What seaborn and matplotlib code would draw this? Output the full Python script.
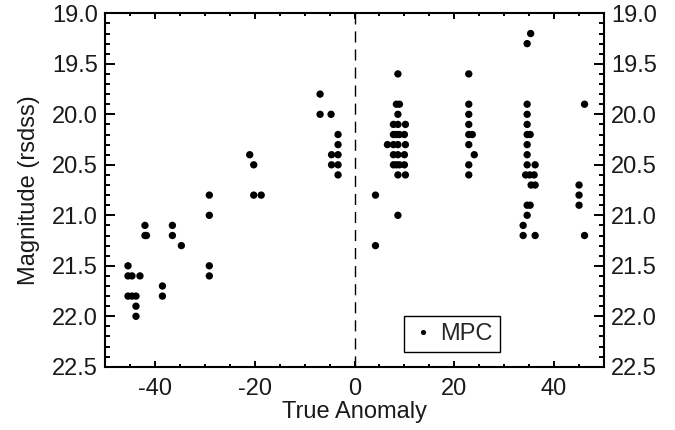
import matplotlib
matplotlib.use("Agg")
import matplotlib.pyplot as plt
from matplotlib.ticker import MultipleLocator
import seaborn as sns
import pandas as pd

# True anomaly (deg) and magnitude (rsdss) of MPC observations
anomaly = [
    -45.4, -45.4, -44.6, -43.0, -45.4, -44.6, -43.8, -43.8, -43.8,
    -42.0, -42.0, -41.7, -38.5, -38.5, -36.5, -36.5, -34.7,
    -29.1, -29.1, -29.1, -29.1,
    -21.0, -20.2, -20.2, -18.7,
    -6.9, -6.9, -4.7, -3.3, -3.3, -4.6, -3.3, -4.6, -3.3, -3.3,
    4.2, 4.2,
    8.7, 8.4, 9.0, 8.7, 7.8, 8.7, 10.2, 7.8, 8.4, 9.0, 10.0,
    6.6, 7.8, 8.7, 10.2, 7.8, 8.7, 10.0, 7.8, 8.4, 9.0, 10.0, 8.7, 10.2, 8.7,
    22.9, 22.9, 22.9, 22.9, 22.9, 23.6, 22.9, 24.0, 22.9, 22.9,
    35.3, 34.6, 34.6, 34.6, 34.6, 34.6, 35.2, 34.6, 34.6, 34.6, 36.2,
    34.3, 35.1, 36.0, 35.4, 36.2, 34.6, 35.2, 34.6, 33.8, 33.8, 36.2,
    46.1, 45.0, 45.0, 45.0, 46.1,
]
magnitude = [
    21.5, 21.6, 21.6, 21.6, 21.8, 21.8, 21.8, 21.9, 22.0,
    21.1, 21.2, 21.2, 21.7, 21.8, 21.1, 21.2, 21.3,
    20.8, 21.0, 21.5, 21.6,
    20.4, 20.5, 20.8, 20.8,
    19.8, 20.0, 20.0, 20.2, 20.3, 20.4, 20.4, 20.5, 20.5, 20.6,
    20.8, 21.3,
    19.6, 19.9, 19.9, 20.0, 20.1, 20.1, 20.1, 20.2, 20.2, 20.2, 20.2,
    20.3, 20.3, 20.3, 20.3, 20.4, 20.4, 20.4, 20.5, 20.5, 20.5, 20.5, 20.6, 20.6, 21.0,
    19.6, 19.9, 20.0, 20.1, 20.2, 20.2, 20.3, 20.4, 20.5, 20.6,
    19.2, 19.3, 19.9, 20.0, 20.1, 20.2, 20.2, 20.3, 20.4, 20.5, 20.5,
    20.6, 20.6, 20.6, 20.7, 20.7, 20.9, 20.9, 21.0, 21.1, 21.2, 21.2,
    19.9, 20.7, 20.8, 20.9, 21.2,
]
source = ["MPC"] * len(anomaly)

df = pd.DataFrame({"True Anomaly": anomaly, "Magnitude": magnitude, "Source": source})

sns.set_style("ticks")
plt.rcParams["font.family"] = ["Liberation Sans", "DejaVu Sans"]

FS = 17
fig = plt.figure(figsize=(6.75, 4.30), dpi=100)
ax = fig.add_axes([0.1556, 0.147, 0.7392, 0.822])

sns.scatterplot(data=df, x="True Anomaly", y="Magnitude", hue="Source",
                palette={"MPC": "black"}, s=28, edgecolor="none", ax=ax)

ax.axvline(0, color="black", lw=1.0, ls=(0, (8, 5)))

ax.set_xlim(-50, 50)
ax.set_ylim(22.5, 19.0)
ax.xaxis.set_major_locator(MultipleLocator(20))
ax.xaxis.set_minor_locator(MultipleLocator(5))
ax.yaxis.set_major_locator(MultipleLocator(0.5))
ax.yaxis.set_minor_locator(MultipleLocator(0.1))
ax.yaxis.set_major_formatter(matplotlib.ticker.FormatStrFormatter("%.1f"))
ax.xaxis.set_major_formatter(matplotlib.ticker.FormatStrFormatter("%d"))

for sp in ax.spines.values():
    sp.set_visible(True)
    sp.set_linewidth(1.5)
    sp.set_color("black")

ax.tick_params(axis="both", which="both", direction="in", top=True, right=True,
               labelright=True, color="black", width=1.4, labelsize=FS,
               labelcolor="#1a1a1a")
ax.tick_params(axis="y", which="major", length=7.2, pad=5)
ax.tick_params(axis="y", which="minor", length=3.6)
ax.tick_params(axis="x", which="major", length=4.5, pad=8)
ax.tick_params(axis="x", which="minor", length=2.3)

ax.set_xlabel("True Anomaly", fontsize=FS, color="#1a1a1a", labelpad=1)
ax.set_ylabel("Magnitude (rsdss)", fontsize=FS, color="#1a1a1a", labelpad=9)

leg = ax.legend(loc="lower left", bbox_to_anchor=(0.599, 0.042), frameon=True,
                fancybox=False, framealpha=1, edgecolor="black", fontsize=FS,
                handletextpad=0.25, borderpad=0.3, handlelength=1.0, markerscale=0.7,
                borderaxespad=0)
leg.get_frame().set_linewidth(1.0)

fig.savefig("out.png", dpi=100)
